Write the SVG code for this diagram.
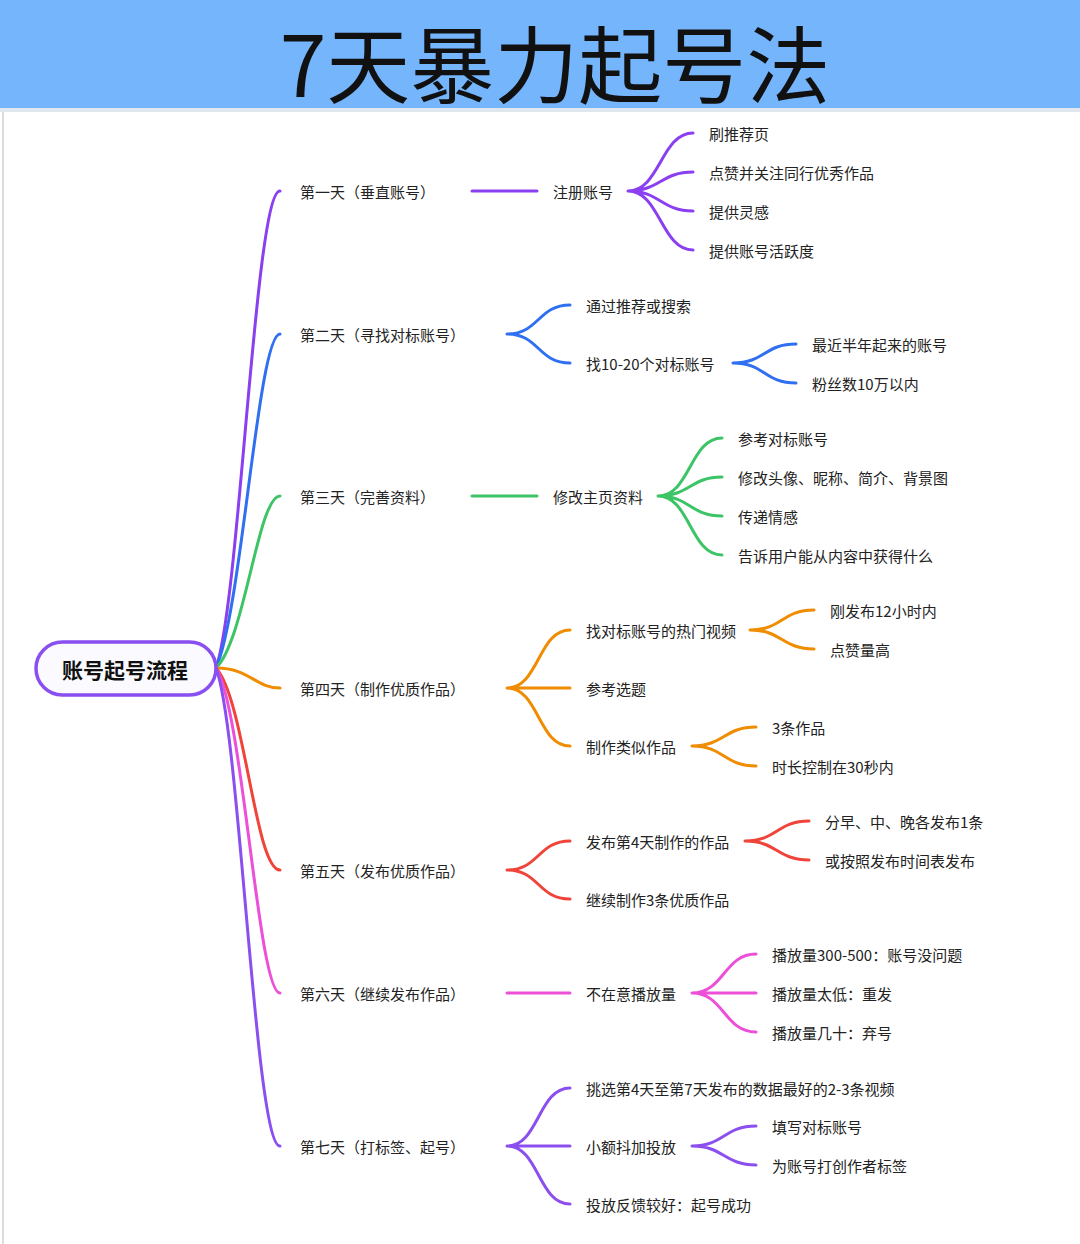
<svg xmlns="http://www.w3.org/2000/svg" width="1080" height="1244" viewBox="0 0 1080 1244">
<style>
text{font-family:"Noto Sans CJK SC","Noto Sans",sans-serif;fill:#222;font-size:15px;dominant-baseline:central}
.c path{fill:none;stroke-width:3;stroke-linecap:round}
.p{stroke:#8a3ff0}.b{stroke:#2f6ff2}.g{stroke:#3cc466}.o{stroke:#f08c00}.r{stroke:#f0443a}.k{stroke:#ec4fd8}.v{stroke:#8b4ff0}
</style>
<rect x="0" y="0" width="1080" height="1244" fill="#fff"/>
<rect x="0" y="0" width="1080" height="108" fill="#75b5fb"/>
<rect x="0" y="108" width="1080" height="4" fill="#dfe6ee"/>
<line x1="3" y1="112" x2="3" y2="1244" stroke="#ddd" stroke-width="2"/>
<text x="555" y="60" text-anchor="middle" style="font-size:84px;fill:#111">7天暴力起号法</text>
<g class="c" id="connectors">
<path class="p" d="M216 668 C240 600,255 191,280 191"/>
<path class="b" d="M216 668 C242 610,258 334,280 334"/>
<path class="g" d="M216 668 C245 640,258 496,280 496"/>
<path class="o" d="M216 668 C250 668,255 688,280 688"/>
<path class="r" d="M216 668 C245 700,255 870,280 870"/>
<path class="k" d="M216 668 C243 710,258 993,280 993"/>
<path class="v" d="M216 668 C240 730,255 1146,280 1146"/>
<path class="p" d="M472 191H537"/>
<path class="p" d="M628 191C660 191,661 133,693 133M628 191C660 191,661 172,693 172M628 191C660 191,661 211,693 211M628 191C660 191,661 250,693 250"/>
<path class="b" d="M507 334C539 334,538 305,570 305M507 334C539 334,538 363,570 363"/>
<path class="b" d="M733 363C765 363,764 344,796 344M733 363C765 363,764 383,796 383"/>
<path class="g" d="M472 496H537"/>
<path class="g" d="M658 496C690 496,690 438,722 438M658 496C690 496,690 477,722 477M658 496C690 496,690 516,722 516M658 496C690 496,690 555,722 555"/>
<path class="o" d="M507 688C539 688,538 630,570 630M507 688H570M507 688C539 688,538 746,570 746"/>
<path class="o" d="M750 630C782 630,782 610,814 610M750 630C782 630,782 649,814 649"/>
<path class="o" d="M692 746C724 746,724 727,756 727M692 746C724 746,724 766,756 766"/>
<path class="r" d="M507 870C539 870,538 841,570 841M507 870C539 870,538 899,570 899"/>
<path class="r" d="M745 841C777 841,777 821,809 821M745 841C777 841,777 860,809 860"/>
<path class="k" d="M507 993H570"/>
<path class="k" d="M692 993C724 993,724 954,756 954M692 993H756M692 993C724 993,724 1032,756 1032"/>
<path class="v" d="M507 1146C539 1146,538 1088,570 1088M507 1146H570M507 1146C539 1146,538 1204,570 1204"/>
<path class="v" d="M692 1146C724 1146,724 1126,756 1126M692 1146C724 1146,724 1165,756 1165"/>
</g>
<g id="root"><rect x="36" y="642" width="180" height="53" rx="26.5" fill="#fbfbff" stroke="#8a4ff0" stroke-width="3.5"/><text x="125" y="669" text-anchor="middle" style="font-size:21px;font-weight:bold;fill:#111">账号起号流程</text></g>
<g id="d1"><text x="300" y="191">第一天（垂直账号）</text></g>
<g id="d1a"><text x="553" y="191">注册账号</text></g>
<g id="d1l"><text x="709" y="133">刷推荐页</text><text x="709" y="172">点赞并关注同行优秀作品</text><text x="709" y="211">提供灵感</text><text x="709" y="250">提供账号活跃度</text></g>
<g id="d2"><text x="300" y="334">第二天（寻找对标账号）</text></g>
<g id="d2a"><text x="586" y="305">通过推荐或搜索</text><text x="586" y="363">找10-20个对标账号</text></g>
<g id="d2l"><text x="812" y="344">最近半年起来的账号</text><text x="812" y="383">粉丝数10万以内</text></g>
<g id="d3"><text x="300" y="496">第三天（完善资料）</text></g>
<g id="d3a"><text x="553" y="496">修改主页资料</text></g>
<g id="d3l"><text x="738" y="438">参考对标账号</text><text x="738" y="477">修改头像、昵称、简介、背景图</text><text x="738" y="516">传递情感</text><text x="738" y="555">告诉用户能从内容中获得什么</text></g>
<g id="d4"><text x="300" y="688">第四天（制作优质作品）</text></g>
<g id="d4a"><text x="586" y="630">找对标账号的热门视频</text><text x="586" y="688">参考选题</text><text x="586" y="746">制作类似作品</text></g>
<g id="d4l"><text x="830" y="610">刚发布12小时内</text><text x="830" y="649">点赞量高</text><text x="772" y="727">3条作品</text><text x="772" y="766">时长控制在30秒内</text></g>
<g id="d5"><text x="300" y="870">第五天（发布优质作品）</text></g>
<g id="d5a"><text x="586" y="841">发布第4天制作的作品</text><text x="586" y="899">继续制作3条优质作品</text></g>
<g id="d5l"><text x="825" y="821">分早、中、晚各发布1条</text><text x="825" y="860">或按照发布时间表发布</text></g>
<g id="d6"><text x="300" y="993">第六天（继续发布作品）</text></g>
<g id="d6a"><text x="586" y="993">不在意播放量</text></g>
<g id="d6l"><text x="772" y="954">播放量300-500：账号没问题</text><text x="772" y="993">播放量太低：重发</text><text x="772" y="1032">播放量几十：弃号</text></g>
<g id="d7"><text x="300" y="1146">第七天（打标签、起号）</text></g>
<g id="d7a"><text x="586" y="1088">挑选第4天至第7天发布的数据最好的2-3条视频</text><text x="586" y="1146">小额抖加投放</text><text x="586" y="1204">投放反馈较好：起号成功</text></g>
<g id="d7l"><text x="772" y="1126">填写对标账号</text><text x="772" y="1165">为账号打创作者标签</text></g>
</svg>
